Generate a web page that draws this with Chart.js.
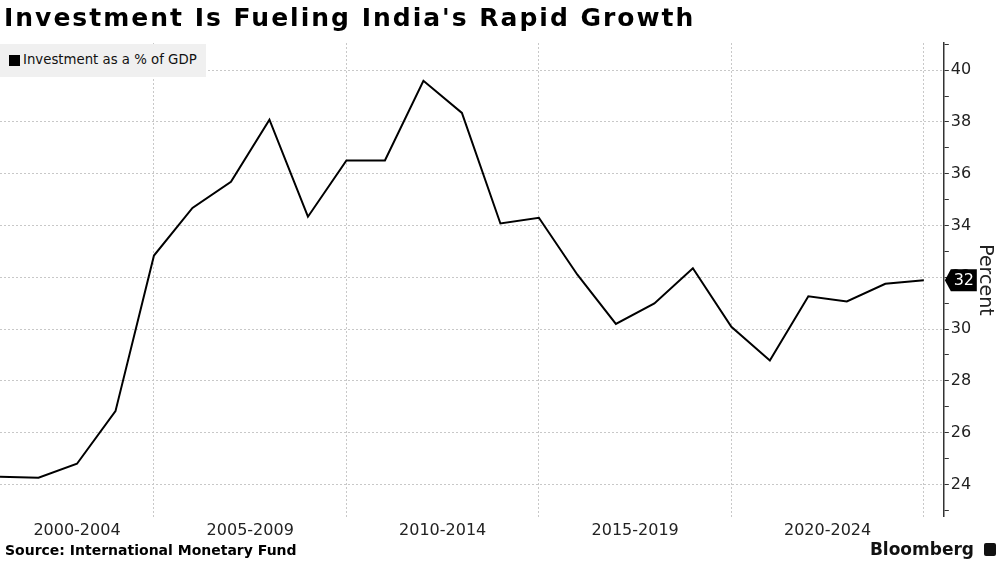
<!DOCTYPE html>
<html>
<head>
<meta charset="utf-8">
<script src="https://cdn.jsdelivr.net/npm/chart.js@4"></script>
<style>
  html, body { margin: 0; padding: 0; background: #fff; }
  body { width: 1000px; height: 563px; position: relative; overflow: hidden; font-family: "DejaVu Sans", sans-serif; }
  #wrap { position: absolute; left: 0; top: 0; width: 1000px; height: 563px; }
  #title { position: absolute; left: 4px; top: 3px; font-size: 25px; letter-spacing: 2px; font-weight: bold; color: #000; white-space: nowrap; }
  #legend { position: absolute; left: 0; top: 44px; width: 206px; height: 33px; background: #f0f0f0; font-size: 13.3px; color: #111; }
  #legend .sw { position: absolute; left: 9px; top: 11px; width: 11px; height: 11px; background: #000; }
  #legend .tx { position: absolute; left: 23px; top: 8px; white-space: nowrap; }
  #source { position: absolute; left: 5px; top: 542px; font-size: 14px; font-weight: bold; color: #000; white-space: nowrap; }
  #brand { position: absolute; right: 26px; top: 539px; font-size: 17px; font-weight: bold; color: #111; }
  #logo { position: absolute; right: 4px; top: 543px; width: 12px; height: 13px; background: #111; border-radius: 2px; }
</style>
</head>
<body>
<div id="wrap"><canvas id="chart"></canvas></div>
<div id="title">Investment Is Fueling India's Rapid Growth</div>
<div id="legend"><span class="sw"></span><span class="tx">Investment as a % of GDP</span></div>
<div id="source">Source: International Monetary Fund</div>
<div id="brand">Bloomberg</div>
<div id="logo"></div>
<script>
// investment as % of GDP
const years = [2000, 2001, 2002, 2003, 2004, 2005, 2006, 2007, 2008, 2009, 2010, 2011, 2012,
  2013, 2014, 2015, 2016, 2017, 2018, 2019, 2020, 2021, 2022, 2023, 2024];
const investment = [24.3, 24.26, 24.8, 26.83, 32.84, 34.68, 35.69, 38.09, 34.34, 36.51, 36.51, 39.59, 38.35,
  34.08, 34.3, 32.1, 30.2, 30.99, 32.35, 30.09, 28.79, 31.27, 31.07, 31.75, 31.89];

// period labels sit between the grid lines
const periodLabels = ['2000-2004', '2005-2009', '2010-2014', '2015-2019', '2020-2024'];
const periodCenters = [2002, 2006.5, 2011.5, 2016.5, 2021.5];
const periodBreaks = [2004, 2009, 2014, 2019, 2024];

const yTicks = [];
for (let v = 23; v <= 41; v++) yTicks.push(v);

const points = years.map((y, i) => ({ x: y, y: investment[i] }));

const lastTag = {
  id: 'lastTag',
  afterDraw(chart) {
    const ys = chart.scales.y;
    const ctx = chart.ctx;
    const last = investment[investment.length - 1];
    const py = ys.getPixelForValue(last);
    const x0 = ys.left + 1;
    ctx.save();
    ctx.fillStyle = '#000';
    ctx.beginPath();
    ctx.moveTo(x0, py);
    ctx.lineTo(x0 + 6, py - 11);
    ctx.lineTo(x0 + 32, py - 11);
    ctx.lineTo(x0 + 32, py + 11);
    ctx.lineTo(x0 + 6, py + 11);
    ctx.closePath();
    ctx.fill();
    ctx.fillStyle = '#fff';
    ctx.font = '16px "DejaVu Sans"';
    ctx.textAlign = 'center';
    ctx.textBaseline = 'middle';
    ctx.fillText(String(Math.round(last)), x0 + 19, py + 1);
    ctx.restore();
  }
};

new Chart(document.getElementById('chart'), {
  type: 'line',
  data: {
    datasets: [{
      label: 'Investment as a % of GDP',
      data: points,
      borderColor: '#000',
      borderWidth: 2,
      pointRadius: 0,
      tension: 0
    }]
  },
  options: {
    responsive: true,
    maintainAspectRatio: false,
    animation: false,
    layout: { padding: { top: 43, left: 0, right: 2, bottom: 19 } },
    plugins: { legend: { display: false }, tooltip: { enabled: false } },
    scales: {
      x: {
        type: 'linear',
        min: 2000,
        max: 2024.52,
        afterBuildTicks(scale) {
          const t = periodCenters.concat(periodBreaks).sort((a, b) => a - b);
          scale.ticks = t.map(v => ({ value: v }));
        },
        grid: {
          color: ctx => periodBreaks.includes(ctx.tick && ctx.tick.value) ? '#c8c8c8' : 'rgba(0,0,0,0)',
          lineWidth: 1,
          drawTicks: false
        },
        border: { display: false, dash: [2, 2] },
        ticks: {
          autoSkip: false,
          maxRotation: 0,
          padding: 4,
          color: '#222',
          font: { family: 'DejaVu Sans', size: 16 },
          callback: v => {
            const i = periodCenters.indexOf(v);
            return i >= 0 ? periodLabels[i] : '';
          }
        }
      },
      y: {
        position: 'right',
        min: 22.75,
        max: 41.05,
        afterBuildTicks(scale) {
          scale.ticks = yTicks.map(v => ({ value: v }));
        },
        grid: {
          color: ctx => (ctx.tick && ctx.tick.value % 2 === 0) ? '#c8c8c8' : 'rgba(0,0,0,0)',
          tickColor: '#333',
          tickLength: 5,
          lineWidth: 1
        },
        border: { display: true, color: '#333', width: 1.5, dash: [2, 2] },
        ticks: {
          padding: 2,
          color: '#222',
          font: { family: 'DejaVu Sans', size: 16 },
          callback: v => (v % 2 === 0 ? String(v) : '')
        },
        title: {
          display: true,
          text: 'Percent',
          color: '#222',
          font: { family: 'DejaVu Sans', size: 19 },
          padding: { top: 2, bottom: 0 }
        }
      }
    }
  },
  plugins: [lastTag]
});
</script>
</body>
</html>
